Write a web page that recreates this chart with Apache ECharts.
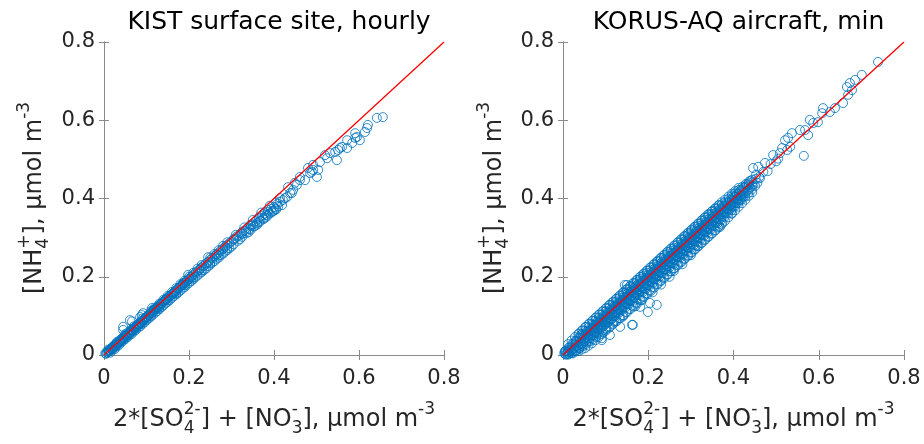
<!DOCTYPE html>
<html>
<head>
<meta charset="utf-8">
<script src="https://cdn.jsdelivr.net/npm/echarts@6/dist/echarts.min.js"></script>
<style>html,body{margin:0;padding:0;background:#fff}#c{width:924px;height:444px}</style>
</head>
<body>
<div id="c"></div>
<script>
// ---- data ----
const titles = ['KIST surface site, hourly', 'KORUS-AQ aircraft, min'];
const tickValues = [0, 0.2, 0.4, 0.6, 0.8];
const oneToOne = [[0, 0], [0.8, 0.8]];

const kistLow = [
[0.003,0.004],[0.005,0.003],[0.006,0.007],[0.008,0.006],[0.010,0.009],[0.011,0.012],[0.012,0.010],[0.014,0.013],[0.015,0.011],[0.016,0.016],
[0.018,0.015],[0.019,0.018],[0.020,0.017],[0.021,0.022],[0.023,0.019],[0.024,0.023],[0.025,0.021],[0.027,0.026],[0.028,0.024],[0.029,0.030],
[0.031,0.027],[0.032,0.031],[0.033,0.029],[0.035,0.034],[0.036,0.031],[0.037,0.038],[0.039,0.035],[0.040,0.039],[0.041,0.036],[0.043,0.043],
[0.044,0.040],[0.046,0.044],[0.047,0.042],[0.048,0.050],[0.050,0.046],[0.051,0.049],[0.053,0.051],[0.054,0.048],[0.055,0.056],[0.057,0.053],
[0.058,0.055],[0.060,0.058],[0.061,0.055],[0.062,0.063],[0.064,0.060],[0.065,0.062],[0.067,0.065],[0.068,0.062],[0.070,0.068],[0.071,0.066],
[0.072,0.071],[0.074,0.069],[0.075,0.072],[0.077,0.075],[0.078,0.072],[0.080,0.078],[0.081,0.076],[0.082,0.080],[0.084,0.079],[0.085,0.082],
[0.087,0.084],[0.088,0.081],[0.090,0.088],[0.091,0.086],[0.093,0.089],[0.094,0.091],[0.096,0.092],[0.097,0.095],[0.099,0.096],[0.100,0.093],
[0.045,0.064],[0.045,0.072],[0.061,0.089],[0.066,0.086],[0.085,0.097],[0.089,0.102],[0.092,0.107],[0.113,0.120],[0.115,0.115]
];
const kistMid = [
[0.102,0.099],[0.104,0.101],[0.106,0.102],[0.108,0.105],[0.110,0.106],[0.112,0.109],[0.114,0.110],[0.116,0.113],[0.118,0.114],[0.120,0.117],
[0.122,0.118],[0.124,0.121],[0.126,0.122],[0.128,0.124],[0.130,0.127],[0.132,0.128],[0.134,0.131],[0.136,0.132],[0.138,0.135],[0.140,0.136],
[0.142,0.139],[0.144,0.140],[0.146,0.143],[0.148,0.144],[0.150,0.146],[0.153,0.149],[0.155,0.151],[0.158,0.153],[0.160,0.156],[0.163,0.158],
[0.165,0.161],[0.168,0.163],[0.170,0.166],[0.173,0.168],[0.175,0.171],[0.178,0.173],[0.180,0.176],[0.183,0.178],[0.185,0.180],[0.188,0.183],
[0.190,0.185],[0.193,0.187],[0.195,0.190],[0.198,0.192],[0.200,0.195],[0.204,0.198],[0.208,0.203],[0.212,0.206],[0.216,0.211],[0.220,0.214],
[0.224,0.218],[0.228,0.222],[0.232,0.226],[0.236,0.229],[0.240,0.234],[0.245,0.238],[0.250,0.243],[0.255,0.248],[0.260,0.252],[0.265,0.258],
[0.270,0.262],[0.275,0.267],[0.280,0.271],[0.285,0.277],[0.290,0.281],[0.295,0.286],[0.300,0.290],
[0.110,0.100],[0.130,0.120],[0.150,0.140],[0.170,0.158],[0.190,0.178],[0.210,0.197],[0.230,0.216],[0.250,0.235],[0.270,0.254],[0.290,0.272],
[0.120,0.121],[0.140,0.141],[0.160,0.161],[0.180,0.181],[0.200,0.200],[0.220,0.221],[0.260,0.258],[0.280,0.279],
[0.186,0.184],[0.198,0.205],[0.245,0.250]
];
const kistEdge = [
[0.015,0.006],[0.025,0.015],[0.035,0.025],[0.045,0.036],[0.055,0.045],[0.065,0.054],[0.075,0.064],[0.085,0.073],[0.095,0.083],[0.105,0.093],
[0.115,0.103],[0.125,0.112],[0.135,0.122],[0.145,0.132],[0.155,0.141],[0.165,0.151],[0.175,0.160],[0.185,0.170],[0.195,0.180],[0.205,0.189],
[0.215,0.199],[0.225,0.208],[0.235,0.217],[0.245,0.227],[0.255,0.236],[0.265,0.246],[0.275,0.255],[0.285,0.264],[0.295,0.273],[0.305,0.283],
[0.315,0.292],[0.325,0.302],[0.335,0.311],[0.345,0.320],[0.355,0.330],[0.365,0.339],[0.375,0.347],[0.385,0.356],[0.395,0.365],[0.405,0.372],
[0.010,0.014],[0.030,0.033],[0.050,0.053],[0.070,0.073],[0.090,0.093],[0.110,0.112],[0.130,0.131],[0.150,0.151],[0.170,0.171],[0.190,0.190],
[0.210,0.210],[0.230,0.230],[0.250,0.249],[0.270,0.268],[0.290,0.288],[0.310,0.307],[0.330,0.326],[0.350,0.345],[0.370,0.364],[0.390,0.381]
];
const kistEdge2 = [
[0.020,0.013],[0.030,0.022],[0.040,0.032],[0.050,0.041],[0.060,0.051],[0.070,0.060],[0.080,0.070],[0.090,0.079],[0.100,0.089],[0.110,0.098],
[0.120,0.108],[0.130,0.117],[0.140,0.127],[0.150,0.136],[0.160,0.146],[0.170,0.155],[0.180,0.165],[0.190,0.174],[0.200,0.184],[0.210,0.193],
[0.220,0.203],[0.230,0.212],[0.240,0.221],[0.250,0.231],[0.260,0.240],[0.270,0.249],[0.280,0.259],[0.290,0.268],[0.300,0.277],[0.320,0.296],
[0.340,0.314],[0.360,0.333],[0.380,0.351],[0.400,0.369],
[0.025,0.024],[0.045,0.044],[0.065,0.063],[0.085,0.083],[0.105,0.102],[0.125,0.121],[0.145,0.141],[0.165,0.160],[0.185,0.179],[0.205,0.199],
[0.225,0.218],[0.245,0.237],[0.265,0.256],[0.285,0.276],[0.305,0.295],[0.325,0.314],[0.345,0.333],[0.365,0.352],[0.385,0.371],[0.405,0.390]
];
const kistHigh = [
[0.305,0.296],[0.310,0.298],[0.312,0.303],[0.318,0.305],[0.322,0.311],[0.325,0.309],[0.330,0.318],[0.334,0.316],[0.338,0.325],[0.342,0.322],
[0.346,0.330],[0.350,0.334],[0.352,0.328],[0.357,0.342],[0.360,0.337],[0.365,0.349],[0.368,0.343],[0.372,0.356],[0.375,0.350],[0.378,0.362],
[0.382,0.358],[0.386,0.366],[0.390,0.362],[0.393,0.373],[0.397,0.368],[0.400,0.378],[0.404,0.374],[0.408,0.386],[0.410,0.380],[0.414,0.392],
[0.419,0.383],[0.414,0.401],[0.421,0.396],[0.426,0.401],[0.431,0.404],[0.433,0.429],[0.438,0.414],[0.442,0.414],[0.445,0.422],[0.449,0.440],
[0.454,0.435],[0.461,0.447],[0.461,0.455],[0.473,0.447],[0.480,0.478],[0.485,0.465],[0.489,0.468],[0.492,0.473],[0.492,0.486],[0.501,0.455],
[0.504,0.473],[0.508,0.493],[0.520,0.511],[0.525,0.503],[0.532,0.516],[0.544,0.519],[0.548,0.498],[0.551,0.524],[0.555,0.529],[0.560,0.532],
[0.572,0.549],[0.572,0.529],[0.584,0.542],[0.591,0.567],[0.591,0.555],[0.595,0.557],[0.602,0.549],[0.614,0.570],[0.619,0.580],[0.621,0.588],
[0.642,0.606],[0.656,0.608]
];

const korusBand = [
[0.003,0.004],[0.005,0.010],[0.006,0.002],[0.010,0.006],[0.012,0.013],[0.013,0.018],[0.014,0.003],
[0.019,0.012],[0.020,0.020],[0.021,0.027],[0.022,0.008],[0.027,0.018],[0.028,0.027],[0.029,0.036],[0.030,0.012],
[0.035,0.024],[0.036,0.035],[0.037,0.045],[0.038,0.017],[0.043,0.030],[0.044,0.043],[0.045,0.054],[0.046,0.022],[0.042,0.050],
[0.051,0.036],[0.052,0.051],[0.053,0.062],[0.054,0.028],[0.050,0.045],[0.059,0.043],[0.060,0.059],[0.061,0.071],[0.062,0.034],[0.058,0.052],
[0.067,0.050],[0.068,0.066],[0.069,0.079],[0.070,0.040],[0.066,0.060],[0.075,0.057],[0.076,0.075],[0.077,0.088],[0.078,0.046],[0.074,0.068],
[0.083,0.064],[0.084,0.082],[0.085,0.096],[0.086,0.052],[0.082,0.074],[0.091,0.071],[0.092,0.090],[0.093,0.104],[0.094,0.058],[0.090,0.083],
[0.099,0.078],[0.100,0.098],[0.101,0.112],[0.102,0.066],[0.098,0.090],[0.107,0.085],[0.108,0.106],[0.109,0.121],[0.110,0.072],[0.106,0.097],
[0.115,0.092],[0.116,0.114],[0.117,0.129],[0.118,0.080],[0.114,0.105],[0.123,0.100],[0.124,0.122],[0.125,0.137],[0.126,0.087],[0.122,0.113],
[0.131,0.107],[0.132,0.130],[0.133,0.146],[0.134,0.094],[0.130,0.121],[0.139,0.115],[0.140,0.138],[0.141,0.154],[0.142,0.101],[0.138,0.128],
[0.147,0.122],[0.148,0.146],[0.149,0.162],[0.150,0.109],[0.146,0.136],[0.155,0.130],[0.156,0.154],[0.157,0.170],[0.158,0.117],[0.154,0.144],
[0.163,0.138],[0.164,0.162],[0.165,0.178],[0.166,0.124],[0.162,0.152],[0.171,0.145],[0.172,0.170],[0.173,0.186],[0.174,0.132],[0.170,0.160],
[0.179,0.153],[0.180,0.178],[0.181,0.194],[0.182,0.140],[0.178,0.168],[0.187,0.161],[0.188,0.186],[0.189,0.202],[0.190,0.148],[0.186,0.176],
[0.195,0.169],[0.196,0.194],[0.197,0.210],[0.198,0.156],[0.194,0.184],[0.203,0.177],[0.204,0.202],[0.205,0.218],[0.206,0.164],[0.202,0.192],
[0.211,0.185],[0.212,0.210],[0.213,0.226],[0.214,0.172],[0.210,0.200],[0.219,0.193],[0.220,0.218],[0.221,0.234],[0.222,0.181],[0.218,0.208],
[0.227,0.201],[0.228,0.226],[0.229,0.242],[0.230,0.189],[0.226,0.216],[0.235,0.209],[0.236,0.234],[0.237,0.250],[0.238,0.197],[0.234,0.224],
[0.243,0.217],[0.244,0.242],[0.245,0.258],[0.246,0.206],[0.242,0.232],[0.251,0.225],[0.252,0.250],[0.253,0.266],[0.254,0.214],[0.250,0.240],
[0.259,0.233],[0.260,0.258],[0.261,0.274],[0.262,0.222],[0.258,0.248],[0.267,0.241],[0.268,0.266],[0.269,0.282],[0.270,0.230],[0.266,0.256],
[0.275,0.249],[0.276,0.274],[0.277,0.290],[0.278,0.238],[0.274,0.264],[0.283,0.257],[0.284,0.282],[0.285,0.298],[0.286,0.246],[0.282,0.272],
[0.291,0.265],[0.292,0.290],[0.293,0.306],[0.294,0.254],[0.290,0.280],[0.299,0.273],[0.300,0.298],[0.301,0.314],[0.302,0.262],[0.298,0.288],
[0.307,0.281],[0.308,0.306],[0.309,0.322],[0.310,0.270],[0.306,0.296],[0.315,0.289],[0.316,0.314],[0.317,0.330],[0.318,0.278],[0.314,0.304],
[0.323,0.297],[0.324,0.322],[0.325,0.338],[0.326,0.287],[0.322,0.312],[0.331,0.305],[0.332,0.330],[0.333,0.346],[0.334,0.295],[0.330,0.320],
[0.339,0.313],[0.340,0.338],[0.341,0.354],[0.342,0.303],[0.338,0.328],[0.347,0.321],[0.348,0.346],[0.349,0.361],[0.350,0.311],[0.346,0.336],
[0.355,0.329],[0.356,0.354],[0.357,0.369],[0.358,0.319],[0.354,0.344],[0.363,0.337],[0.364,0.362],[0.365,0.377],[0.366,0.330],[0.362,0.352],
[0.371,0.345],[0.372,0.370],[0.373,0.385],[0.374,0.338],[0.370,0.360],[0.379,0.353],[0.380,0.378],[0.381,0.392],[0.378,0.366],
[0.387,0.362],[0.388,0.386],[0.389,0.400],[0.386,0.374],[0.395,0.370],[0.396,0.394],[0.397,0.408],[0.394,0.383],
[0.403,0.380],[0.404,0.402],[0.405,0.415],[0.402,0.391],[0.411,0.388],[0.412,0.410],[0.413,0.422],[0.410,0.399],
[0.419,0.397],[0.420,0.418],[0.421,0.430],[0.418,0.408],[0.427,0.405],[0.428,0.426],[0.429,0.437],
[0.435,0.414],[0.436,0.434],[0.437,0.444],[0.443,0.423],[0.444,0.441],[0.451,0.432],[0.452,0.450],[0.453,0.461]
];
const korusBand2 = [
[0.007,0.001],[0.007,0.011],[0.015,0.007],[0.015,0.020],[0.016,0.013],
[0.023,0.004],[0.023,0.015],[0.024,0.029],[0.031,0.010],[0.031,0.023],[0.032,0.037],[0.030,0.033],
[0.039,0.018],[0.039,0.031],[0.040,0.044],[0.038,0.055],[0.047,0.026],[0.047,0.040],[0.048,0.052],[0.046,0.063],
[0.055,0.034],[0.055,0.047],[0.056,0.060],[0.054,0.072],[0.063,0.042],[0.063,0.055],[0.064,0.068],[0.062,0.080],
[0.071,0.050],[0.071,0.063],[0.072,0.077],[0.070,0.088],[0.079,0.058],[0.079,0.071],[0.080,0.085],[0.078,0.096],
[0.087,0.066],[0.087,0.079],[0.088,0.093],[0.086,0.104],[0.095,0.074],[0.095,0.087],[0.096,0.101],[0.094,0.112],
[0.103,0.082],[0.103,0.095],[0.104,0.109],[0.102,0.120],[0.111,0.090],[0.111,0.103],[0.112,0.117],[0.110,0.128],
[0.119,0.098],[0.119,0.111],[0.120,0.125],[0.118,0.136],[0.127,0.106],[0.127,0.119],[0.128,0.133],[0.126,0.144],
[0.135,0.114],[0.135,0.127],[0.136,0.141],[0.134,0.152],[0.143,0.122],[0.143,0.135],[0.144,0.149],[0.142,0.160],
[0.151,0.130],[0.151,0.143],[0.152,0.157],[0.150,0.168],[0.159,0.138],[0.159,0.151],[0.160,0.165],[0.158,0.176],
[0.167,0.146],[0.167,0.159],[0.168,0.173],[0.166,0.184],[0.175,0.154],[0.175,0.167],[0.176,0.181],[0.174,0.192],
[0.183,0.162],[0.183,0.175],[0.184,0.189],[0.182,0.200],[0.191,0.170],[0.191,0.183],[0.192,0.197],[0.190,0.208],
[0.199,0.178],[0.199,0.191],[0.200,0.205],[0.198,0.216],[0.207,0.186],[0.207,0.199],[0.208,0.213],[0.206,0.224],
[0.215,0.194],[0.215,0.207],[0.216,0.221],[0.214,0.232],[0.223,0.202],[0.223,0.215],[0.224,0.229],[0.222,0.240],
[0.231,0.210],[0.231,0.223],[0.232,0.237],[0.230,0.248],[0.239,0.218],[0.239,0.231],[0.240,0.245],[0.238,0.256],
[0.247,0.226],[0.247,0.239],[0.248,0.253],[0.246,0.264],[0.255,0.234],[0.255,0.247],[0.256,0.261],[0.254,0.272],
[0.263,0.242],[0.263,0.255],[0.264,0.269],[0.262,0.280],[0.271,0.250],[0.271,0.263],[0.272,0.277],[0.270,0.288],
[0.279,0.258],[0.279,0.271],[0.280,0.285],[0.278,0.296],[0.287,0.266],[0.287,0.279],[0.288,0.293],[0.286,0.304],
[0.295,0.274],[0.295,0.287],[0.296,0.301],[0.294,0.312],[0.303,0.282],[0.303,0.295],[0.304,0.309],[0.302,0.320],
[0.311,0.290],[0.311,0.303],[0.312,0.317],[0.310,0.328],[0.319,0.298],[0.319,0.311],[0.320,0.325],[0.318,0.336],
[0.327,0.306],[0.327,0.319],[0.328,0.333],[0.326,0.344],[0.335,0.314],[0.335,0.327],[0.336,0.341],[0.334,0.352],
[0.343,0.322],[0.343,0.335],[0.344,0.349],[0.342,0.360],[0.351,0.330],[0.351,0.343],[0.352,0.357],[0.350,0.368],
[0.359,0.338],[0.359,0.351],[0.360,0.365],[0.358,0.375],[0.367,0.346],[0.367,0.359],[0.368,0.373],[0.366,0.383],
[0.375,0.354],[0.375,0.367],[0.376,0.381],[0.383,0.363],[0.383,0.375],[0.384,0.389],[0.391,0.371],[0.391,0.383],[0.392,0.397],
[0.399,0.379],[0.399,0.391],[0.400,0.405],[0.407,0.388],[0.407,0.399],[0.408,0.412],[0.415,0.396],[0.415,0.407],[0.416,0.420],
[0.423,0.404],[0.423,0.415],[0.424,0.428],[0.431,0.420],[0.432,0.436],[0.439,0.428],[0.440,0.445],[0.447,0.437]
];
const korusBand3 = [
[0.004,0.008],[0.012,0.001],[0.012,0.028],[0.020,0.005],[0.020,0.037],[0.028,0.009],[0.028,0.046],
[0.036,0.010],[0.036,0.020],[0.036,0.054],[0.044,0.014],[0.044,0.028],[0.044,0.062],
[0.052,0.018],[0.052,0.035],[0.052,0.053],[0.052,0.071],[0.060,0.024],[0.060,0.043],[0.060,0.061],[0.060,0.079],
[0.068,0.030],[0.068,0.051],[0.068,0.069],[0.068,0.087],[0.076,0.038],[0.076,0.059],[0.076,0.077],[0.076,0.095],
[0.084,0.046],[0.084,0.067],[0.084,0.085],[0.084,0.103],[0.092,0.054],[0.092,0.075],[0.092,0.093],[0.092,0.111],
[0.100,0.062],[0.100,0.083],[0.100,0.101],[0.100,0.119],[0.108,0.070],[0.108,0.091],[0.108,0.109],[0.108,0.127],
[0.116,0.078],[0.116,0.099],[0.116,0.117],[0.116,0.135],[0.124,0.086],[0.124,0.107],[0.124,0.125],[0.124,0.143],
[0.132,0.094],[0.132,0.115],[0.132,0.133],[0.132,0.151],[0.140,0.102],[0.140,0.123],[0.140,0.141],[0.140,0.159],
[0.148,0.110],[0.148,0.131],[0.148,0.149],[0.148,0.167],[0.156,0.118],[0.156,0.139],[0.156,0.157],[0.156,0.175],
[0.164,0.126],[0.164,0.147],[0.164,0.165],[0.164,0.183],[0.172,0.134],[0.172,0.155],[0.172,0.173],[0.172,0.191],
[0.180,0.142],[0.180,0.163],[0.180,0.181],[0.180,0.199],[0.188,0.150],[0.188,0.171],[0.188,0.189],[0.188,0.207],
[0.196,0.158],[0.196,0.179],[0.196,0.197],[0.196,0.215],[0.204,0.166],[0.204,0.187],[0.204,0.205],[0.204,0.223],
[0.212,0.174],[0.212,0.195],[0.212,0.213],[0.212,0.231],[0.220,0.182],[0.220,0.203],[0.220,0.221],[0.220,0.239],
[0.228,0.190],[0.228,0.211],[0.228,0.229],[0.228,0.247],[0.236,0.198],[0.236,0.219],[0.236,0.237],[0.236,0.255],
[0.244,0.206],[0.244,0.227],[0.244,0.245],[0.244,0.263],[0.252,0.214],[0.252,0.235],[0.252,0.253],[0.252,0.271],
[0.260,0.222],[0.260,0.243],[0.260,0.261],[0.260,0.279],[0.268,0.230],[0.268,0.251],[0.268,0.269],[0.268,0.287],
[0.276,0.238],[0.276,0.259],[0.276,0.277],[0.276,0.295],[0.284,0.246],[0.284,0.267],[0.284,0.285],[0.284,0.303],
[0.292,0.254],[0.292,0.275],[0.292,0.293],[0.292,0.311],[0.300,0.262],[0.300,0.283],[0.300,0.301],[0.300,0.319],
[0.308,0.270],[0.308,0.291],[0.308,0.309],[0.308,0.327],[0.316,0.278],[0.316,0.299],[0.316,0.317],[0.316,0.335],
[0.324,0.286],[0.324,0.307],[0.324,0.325],[0.324,0.343],[0.332,0.294],[0.332,0.315],[0.332,0.333],[0.332,0.351],
[0.340,0.302],[0.340,0.323],[0.340,0.341],[0.340,0.359],[0.348,0.310],[0.348,0.331],[0.348,0.349],[0.348,0.366],
[0.356,0.318],[0.356,0.339],[0.356,0.357],[0.356,0.374],[0.364,0.326],[0.364,0.347],[0.364,0.365],[0.364,0.382],
[0.372,0.334],[0.372,0.355],[0.372,0.373],[0.372,0.390],[0.380,0.343],[0.380,0.363],[0.380,0.381],[0.380,0.397],
[0.388,0.352],[0.388,0.371],[0.388,0.389],[0.388,0.405],[0.396,0.361],[0.396,0.379],[0.396,0.397],[0.396,0.412],
[0.404,0.370],[0.404,0.388],[0.404,0.405],[0.404,0.419],[0.412,0.379],[0.412,0.396],[0.412,0.413],[0.412,0.427],
[0.420,0.388],[0.420,0.405],[0.420,0.422],[0.428,0.397],[0.428,0.414],[0.428,0.430],[0.436,0.407],[0.436,0.423],[0.436,0.439],
[0.444,0.416],[0.444,0.432],[0.444,0.448],[0.456,0.440],[0.460,0.455]
];
const korusOutliers = [
[0.145,0.179],[0.150,0.179],[0.204,0.133],[0.220,0.128],[0.199,0.110],[0.181,0.123],[0.162,0.077],[0.164,0.077],[0.134,0.072],
[0.110,0.051],[0.091,0.043],[0.091,0.038],[0.368,0.327],[0.314,0.281],[0.396,0.363],[0.565,0.509],
[0.120,0.085],[0.140,0.098],[0.170,0.125],[0.185,0.140],[0.210,0.160],[0.230,0.180],[0.250,0.200],[0.260,0.215],[0.280,0.232],
[0.300,0.255],[0.100,0.068],[0.080,0.052],[0.060,0.035]
];
const korusHigh = [
[0.446,0.478],[0.458,0.481],[0.474,0.491],[0.493,0.511],[0.509,0.516],[0.514,0.529],[0.521,0.549],[0.526,0.524],[0.528,0.555],[0.533,0.532],
[0.537,0.567],[0.556,0.575],[0.568,0.575],[0.575,0.562],[0.579,0.601],[0.587,0.593],[0.598,0.595],[0.608,0.618],[0.610,0.631],[0.626,0.621],
[0.638,0.631],[0.657,0.644],[0.669,0.665],[0.678,0.677],[0.666,0.685],[0.673,0.695],[0.685,0.703],[0.701,0.716],[0.739,0.749],
[0.462,0.452],[0.470,0.468],[0.480,0.470],[0.487,0.488],[0.500,0.495],[0.505,0.502]
];

// ---- chart ----
const FONT = '"DejaVu Sans", Verdana, sans-serif';
const blue = '#0072BD';
const grids = [
  {left: 104, top: 42, width: 340, height: 313},
  {left: 563, top: 42, width: 341, height: 313}
];

function measure(text, size) {
  const ctx = measure.ctx || (measure.ctx = document.createElement('canvas').getContext('2d'));
  ctx.font = size + 'px ' + FONT;
  return ctx.measureText(text).width;
}
function mathLabel(segs, cx, cy, rotation, size) {
  const small = Math.round(size * 0.72);
  const items = [];
  let x = 0;
  segs.forEach(s => {
    if (s.t !== undefined) {
      items.push({text: s.t, x, y: 0, size});
      x += measure(s.t, size);
    } else {
      let w = 0;
      if (s.sub) { items.push({text: s.sub, x, y: size * 0.36, size: small}); w = Math.max(w, measure(s.sub, small)); }
      if (s.sup) { items.push({text: s.sup, x, y: -size * 0.42, size: small}); w = Math.max(w, measure(s.sup, small)); }
      x += w;
    }
  });
  const total = x;
  return {
    type: 'group', x: cx, y: cy, rotation,
    children: items.map(it => ({
      type: 'text', x: it.x - total / 2, y: it.y,
      style: {text: it.text, fontSize: it.size, fontFamily: FONT, fill: '#262626',
              textAlign: 'left', textVerticalAlign: 'middle', verticalAlign: 'middle'}
    }))
  };
}
const xLabelSegs = [{t: '2*[SO'}, {sub: '4', sup: '2-'}, {t: '] + [NO'}, {sub: '3', sup: '-'}, {t: '], μmol m'}, {sup: '-3'}];
const yLabelSegs = [{t: '[NH'}, {sub: '4', sup: '+'}, {t: '], μmol m'}, {sup: '-3'}];

const axisColor = '#8a8a8a';
function axisPair(gi, isX) {
  const base = {
    gridIndex: gi, type: 'value', min: 0, max: 0.8, interval: 0.2,
    splitLine: {show: false},
    axisLine: {show: true, lineStyle: {color: axisColor, width: 1}},
    axisTick: {show: true, inside: true, length: 5, lineStyle: {color: axisColor, width: 1}}
  };
  const main = Object.assign({}, base, {
    position: isX ? 'bottom' : 'left',
    axisLabel: {show: true, color: '#262626', fontSize: 21, fontFamily: FONT, margin: isX ? 13 : 9,
                formatter: v => String(+v.toFixed(1))}
  });
  const other = Object.assign({}, base, {position: isX ? 'top' : 'right', axisLabel: {show: false}});
  return [main, other];
}

const chart = echarts.init(document.getElementById('c'), null, {renderer: 'canvas'});
const xAxes = [...axisPair(0, true), ...axisPair(1, true)];
const yAxes = [...axisPair(0, false), ...axisPair(1, false)];

function scatter(ai, data) {
  return {type: 'scatter', xAxisIndex: ai, yAxisIndex: ai, data, symbol: 'circle', symbolSize: 9,
          itemStyle: {color: 'rgba(0,0,0,0)', borderColor: blue, borderWidth: 1}, silent: true, z: 2};
}
const series = [
  scatter(0, kistLow), scatter(0, kistMid), scatter(0, kistEdge), scatter(0, kistEdge2), scatter(0, kistHigh),
  scatter(2, korusBand), scatter(2, korusBand2), scatter(2, korusBand3), scatter(2, korusOutliers), scatter(2, korusHigh),
  {type: 'line', xAxisIndex: 0, yAxisIndex: 0, data: oneToOne, symbol: 'none', lineStyle: {color: '#ff0000', width: 1.3}, z: 5, silent: true},
  {type: 'line', xAxisIndex: 2, yAxisIndex: 2, data: oneToOne, symbol: 'none', lineStyle: {color: '#ff0000', width: 1.3}, z: 5, silent: true}
];

chart.setOption({
  animation: false,
  backgroundColor: '#fff',
  title: titles.map((t, i) => ({
    text: t, left: grids[i].left + grids[i].width / 2, top: 5, textAlign: 'center',
    textStyle: {fontSize: 25, fontWeight: 'normal', color: '#000', fontFamily: FONT}
  })),
  grid: grids,
  xAxis: xAxes,
  yAxis: yAxes,
  series,
  graphic: [
    mathLabel(xLabelSegs, 274, 420, 0, 24),
    mathLabel(xLabelSegs, 733.5, 420, 0, 24),
    mathLabel(yLabelSegs, 35, 198, Math.PI / 2, 24),
    mathLabel(yLabelSegs, 495, 198, Math.PI / 2, 24)
  ]
});
</script>
</body>
</html>
